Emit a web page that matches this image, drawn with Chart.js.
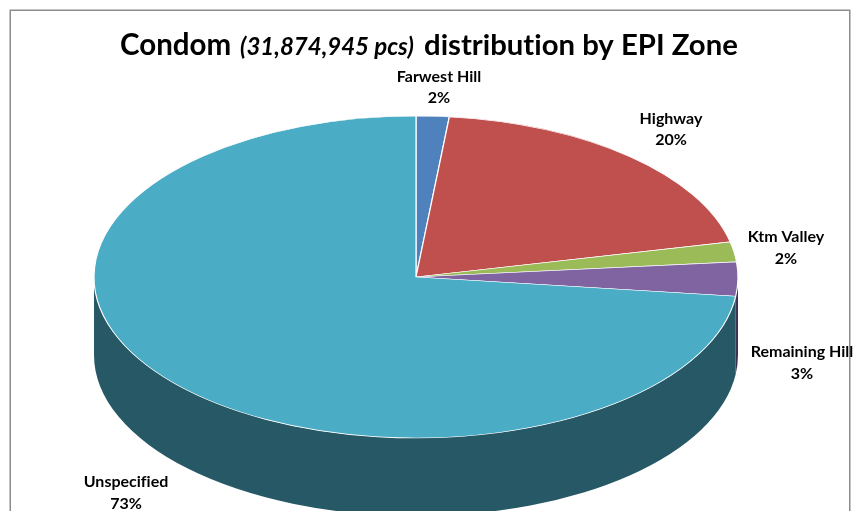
<!DOCTYPE html>
<html>
<head>
<meta charset="utf-8">
<title>Condom distribution by EPI Zone</title>
<style>html,body{margin:0;padding:0;background:#fff;overflow:hidden}canvas{display:block}</style>
<script src="https://cdn.jsdelivr.net/npm/chart.js@4"></script>
</head>
<body>
<canvas id="c" width="854" height="511"></canvas>
<script>
const categories = ['Farwest Hill', 'Highway', 'Ktm Valley', 'Remaining Hill', 'Unspecified'];
const shares = [1.65, 19.85, 2.0, 3.4, 73.1];
const sliceColors = ['#4F81BD', '#C0504D', '#9BBB59', '#8064A2', '#4BACC6'];
const sideColors = ['#27405E', '#602826', '#4D5D2C', '#403251', '#275866'];
const titleParts = [
  {text: 'Condom', x: 120, font: 'bold 29.5px Lato'},
  {text: '(31,874,945 pcs)', x: 240, font: 'italic bold 24px Lato'},
  {text: 'distribution by EPI Zone', x: 424, font: 'bold 29.3px Lato'}
];

const FONT_LABEL = 'bold 16px Lato';
const SQUASH = 0.5, DEPTH = 78;
// layout of the data labels: centre x, first baseline, second baseline
const labelLayout = [[439, 82, 103], [671, 124, 145], [786, 242, 264], [802, 357, 379], [126, 487, 509]];

const depthPie = {
  id: 'depthPie',
  beforeDraw(chart) {
    const {ctx} = chart;
    ctx.save();
    ctx.fillStyle = '#fff';
    ctx.fillRect(0, 0, chart.width, chart.height);
    ctx.strokeStyle = '#8C8C8C';
    ctx.lineWidth = 1.5;
    ctx.strokeRect(10.25, 10.25, 839.5, 520);
    ctx.restore();
  },
  beforeDatasetsDraw(chart) {
    const {ctx} = chart;
    const arcs = chart.getDatasetMeta(0).data;
    arcs.forEach((arc, i) => {
      const a = Math.max(arc.startAngle, 0), b = Math.min(arc.endAngle, Math.PI);
      if (b <= a) return;
      const R = arc.outerRadius;
      ctx.save();
      ctx.fillStyle = sideColors[i];
      ctx.beginPath();
      ctx.ellipse(arc.x, arc.y, R, R * SQUASH, 0, a, b);
      ctx.ellipse(arc.x, arc.y + DEPTH, R, R * SQUASH, 0, b, a, true);
      ctx.closePath();
      ctx.fill();
      ctx.restore();
    });
  },
  beforeDatasetDraw(chart) {
    const {ctx} = chart;
    const cy = chart.getDatasetMeta(0).data[0].y;
    ctx.save();
    ctx.translate(0, cy);
    ctx.scale(1, SQUASH);
    ctx.translate(0, -cy);
  },
  afterDatasetDraw(chart) {
    chart.ctx.restore();
  },
  afterDraw(chart) {
    const {ctx} = chart;
    const total = shares.reduce((s, v) => s + v, 0);
    ctx.save();
    ctx.fillStyle = '#000';
    ctx.textBaseline = 'alphabetic';
    ctx.textAlign = 'left';
    ctx.textRendering = 'optimizeSpeed';
    titleParts.forEach(p => {
      ctx.font = p.font;
      ctx.fillText(p.text, p.x, 55);
    });
    ctx.textAlign = 'center';
    ctx.font = FONT_LABEL;
    categories.forEach((name, i) => {
      const [x, y1, y2] = labelLayout[i];
      ctx.fillText(name, x, y1);
      ctx.fillText(Math.round(shares[i] / total * 100) + '%', x, y2);
    });
    ctx.restore();
  }
};

new Chart(document.getElementById('c'), {
  type: 'pie',
  data: {
    labels: categories,
    datasets: [{
      data: shares,
      backgroundColor: sliceColors,
      borderColor: '#FFFFFF',
      borderWidth: 1.2,
      radius: 322,
      clip: false
    }]
  },
  options: {
    responsive: false,
    animation: false,
    layout: {padding: {left: 0, right: 22, top: 43, bottom: 0}},
    plugins: {legend: {display: false}, tooltip: {enabled: false}, title: {display: false}}
  },
  plugins: [depthPie]
});
</script>
</body>
</html>
